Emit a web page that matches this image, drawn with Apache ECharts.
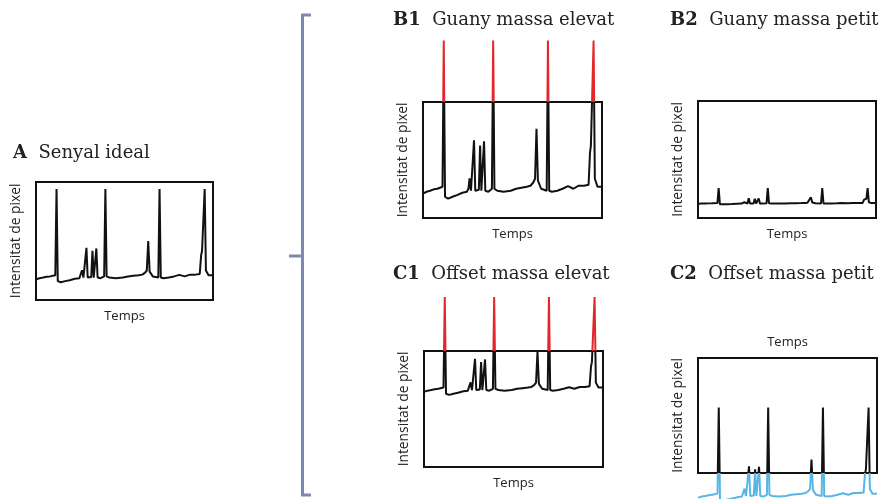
<!DOCTYPE html>
<html>
<head>
<meta charset="utf-8">
<title>Senyal de pixel</title>
<script src="https://cdn.jsdelivr.net/npm/echarts@6.0.0/dist/echarts.min.js"></script>
<style>
html,body{margin:0;padding:0;background:#fff;}
#main{width:882px;height:499px;}
</style>
</head>
<body>
<div id="main"></div>
<script>
// senyal ideal: temps (0-100) i intensitat llegits de la figura
var temps = [0, 2, 4, 6, 8, 10.9, 11.6, 12.3, 14, 16.5, 19, 22, 24.5, 25.4, 26, 26.8, 27.8, 28.5, 29.2,
	31.2, 31.9, 32.6, 34.1, 34.8, 36.5, 38.5, 39.2, 39.9, 41.5, 45, 49, 52, 55, 58, 60, 61.5, 62.6,
	63.4, 64.2, 66, 69.1, 69.8, 70.5, 72, 75, 78, 81, 84, 87, 90, 92.5, 93.3, 93.8, 94.6, 95.3, 96, 97.5, 100];
var intensitat = [0.176, 0.185, 0.19, 0.197, 0.2, 0.21, 0.94, 0.16, 0.151, 0.16, 0.168, 0.18, 0.185, 0.2, 0.252, 0.19, 0.19, 0.442, 0.19,
	0.195, 0.416, 0.19, 0.437, 0.19, 0.185, 0.2, 0.94, 0.2, 0.19, 0.185, 0.19, 0.2, 0.205, 0.21, 0.215, 0.23, 0.25,
	0.499, 0.24, 0.2, 0.19, 0.94, 0.19, 0.185, 0.19, 0.2, 0.213, 0.2, 0.215, 0.215, 0.22, 0.38, 0.415, 0.42, 0.94, 0.25, 0.21, 0.21];

// panells: etiqueta, titol i rang de l'eix d'intensitat
var etiquetes = ['A', 'B1', 'B2', 'C1', 'C2'];
var titols = ['Senyal ideal', 'Guany massa elevat', 'Guany massa petit', 'Offset massa elevat', 'Offset massa petit'];
var eixMin = [0, 0.054, -0.512, -0.431, 0.385];
var eixMax = [1, 0.633, 5.16, 0.505, 1.36];

function init(){
	var caixes = [
		{left:36, top:182, width:177, height:118, tx:13, ty:144},
		{left:423, top:102, width:179, height:116, tx:393, ty:11},
		{left:698, top:101, width:178, height:117, tx:670, ty:11},
		{left:424, top:351, width:179, height:116, tx:393, ty:265},
		{left:698, top:358, width:179, height:115, tx:670, ty:265}
	];
	var punts = [];
	for(var k=0;k<temps.length;k++){
		punts.push([temps[k], intensitat[k]]);
	}
	var grid=[], xAxis=[], yAxis=[], series=[], title=[];
	for(var i=0;i<etiquetes.length;i++){
		var c = caixes[i];
		var retallat = (i==0 || i==2);
		grid.push({left:c.left, top:c.top, width:c.width, height:c.height, show:true, borderColor:'#111', borderWidth:2, backgroundColor:'transparent'});
		xAxis.push({
			type:'value', gridIndex:i, min:0, max:100,
			position: i==4 ? 'top' : 'bottom',
			name:'Temps', nameLocation:'middle', nameGap: i==4 ? 9 : 10,
			nameTextStyle:{fontFamily:'Open Sans', fontSize:13, color:'#222'},
			axisLine:{show:false}, axisTick:{show:false}, axisLabel:{show:false}, splitLine:{show:false}
		});
		yAxis.push({
			type:'value', gridIndex:i, min:eixMin[i], max:eixMax[i],
			name:'Intensitat de pixel', nameLocation:'middle', nameGap:13,
			nameTextStyle:{fontFamily:'Open Sans', fontSize:13.8, color:'#222'},
			axisLine:{show:false}, axisTick:{show:false}, axisLabel:{show:false}, splitLine:{show:false}
		});
		// el color de B1, C1 i C2 el posa el visualMap
		series.push({
			type:'line', xAxisIndex:i, yAxisIndex:i, data:punts,
			showSymbol:false, silent:true,
			clip: retallat,
			lineStyle: retallat ? {width:2, color:'#111'} : {width:2}
		});
		title.push({
			text:'{b|'+etiquetes[i]+'}  '+titols[i],
			left:c.tx, top:c.ty, padding:0,
			textStyle:{fontFamily:'DejaVu Serif', fontSize:18, fontWeight:'normal', color:'#222',
				rich:{b:{fontFamily:'DejaVu Serif', fontSize:18, fontWeight:'bold', color:'#222'}}}
		});
	}
	// parts fora de la caixa: vermell per damunt, blau per sota
	var option = {
		animation:false,
		backgroundColor:'#fff',
		title:title,
		grid:grid,
		xAxis:xAxis,
		yAxis:yAxis,
		visualMap:[
			{show:false, type:'piecewise', seriesIndex:1, dimension:1,
				pieces:[{gt:-10, lte:eixMax[1], color:'#111'}, {gt:eixMax[1], lte:10, color:'#e3262c'}]},
			{show:false, type:'piecewise', seriesIndex:3, dimension:1,
				pieces:[{gt:-10, lte:eixMax[3], color:'#111'}, {gt:eixMax[3], lte:10, color:'#e3262c'}]},
			{show:false, type:'piecewise', seriesIndex:4, dimension:1,
				pieces:[{gt:-10, lt:eixMin[4], color:'#58b6e4'}, {gte:eixMin[4], lte:10, color:'#111'}]}
		],
		graphic:[
			{type:'polyline', silent:true, shape:{points:[[311,15],[302.5,15],[302.5,495],[311,495]]},
				style:{stroke:'#7f88ae', lineWidth:3, fill:null}},
			{type:'line', silent:true, shape:{x1:289, y1:256, x2:302.5, y2:256},
				style:{stroke:'#7f88ae', lineWidth:3}}
		],
		series:series
	};
	var myChart = echarts.init(document.getElementById('main'));
	myChart.setOption(option);
}
init();
</script>
</body>
</html>
